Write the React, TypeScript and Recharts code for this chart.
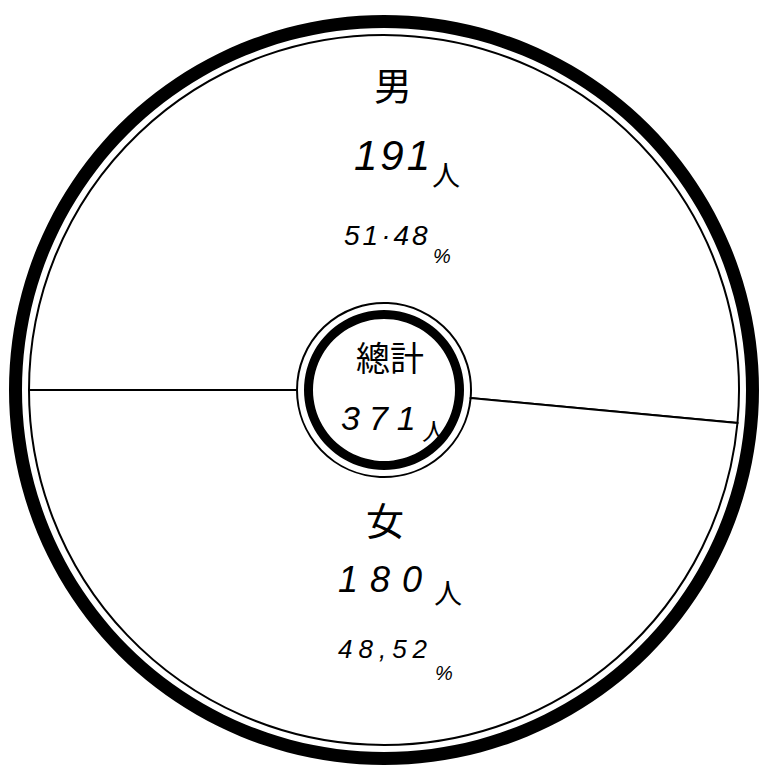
import { Pie, PieChart } from 'recharts';

const categories = ['男', '女'];
const counts = [191, 180];
const percentLabels = ['51.48', '48.52'];
const totalTitle = '總計';
const unit = '人';

const total = counts.reduce((a, b) => a + b, 0);
const sliceData = categories.map((name, i) => ({ name, value: counts[i], pct: percentLabels[i] }));
const ringData = [{ name: totalTitle, value: total }];

const KANJI = '"Noto Sans CJK JP", "Noto Sans CJK TC", sans-serif';
const DIGITS = '"Liberation Sans", "DejaVu Sans", sans-serif';

const CX = 384;
const CY = 390;

// per-slice text layout, offsets from the chart centre
const layout = [
  { name: [9, -307], num: [-30, -220, 42, 3], unit: [62, -204], pct: [-40, -145, 28, 3], sign: [58, -127], sep: '·' },
  { name: [1, 128], num: [-46, 202, 36, 12], unit: [64, 214], pct: [-46, 268, 26, 6], sign: [60, 290], sep: ',' },
];

function SliceLabel(props: any) {
  const { cx, cy, index, payload } = props;
  const l = layout[index];
  const name = payload?.name ?? categories[index];
  const value = String(payload?.value ?? counts[index]);
  const pct = String(payload?.pct ?? percentLabels[index]).replace('.', l.sep);
  return (
    <g>
      <text x={cx + l.name[0]} y={cy + l.name[1]} textAnchor="middle" dominantBaseline="central"
        fontFamily={KANJI} fontSize={38} fill="#000">{name}</text>
      <text x={cx + l.num[0]} y={cy + l.num[1]} textAnchor="start" fontFamily={DIGITS} fontStyle="italic"
        fontSize={l.num[2]} letterSpacing={l.num[3]} fill="#000">{value}</text>
      <text x={cx + l.unit[0]} y={cy + l.unit[1]} textAnchor="middle" fontFamily={KANJI} fontSize={28} fill="#000">{unit}</text>
      <text x={cx + l.pct[0]} y={cy + l.pct[1]} textAnchor="start" fontFamily={DIGITS} fontStyle="italic"
        fontSize={l.pct[2]} letterSpacing={l.pct[3]} fill="#000">{pct}</text>
      <text x={cx + l.sign[0]} y={cy + l.sign[1]} textAnchor="middle" fontFamily={DIGITS} fontStyle="italic"
        fontSize={20} fill="#000">%</text>
    </g>
  );
}

function CenterLabel(props: any) {
  const { cx, cy, index } = props;
  if (index !== 0) return null;
  return (
    <g>
      <text x={cx + 6} y={cy - 34} textAnchor="middle" dominantBaseline="central"
        fontFamily={KANJI} fontSize={34} fill="#000">{totalTitle}</text>
      <text x={cx - 43} y={cy + 40} textAnchor="start" fontFamily={DIGITS} fontStyle="italic"
        fontSize={34} letterSpacing={9} fill="#000">{String(total)}</text>
      <text x={cx + 50} y={cy + 50} textAnchor="middle" fontFamily={KANJI} fontSize={24} fill="#000">{unit}</text>
    </g>
  );
}

export default function App() {
  return (
    <div style={{ position: 'absolute', left: 0, top: 0, width: 760, height: 772, background: '#fff' }}>
      <PieChart width={760} height={772} margin={{ top: 0, right: 0, bottom: 0, left: 0 }}>
        <Pie
          data={ringData}
          dataKey="value"
          cx={CX}
          cy={CY}
          innerRadius={362}
          outerRadius={375}
          startAngle={0}
          endAngle={360}
          fill="#000"
          stroke="none"
          isAnimationActive={false}
        />
        <Pie
          data={sliceData}
          dataKey="value"
          nameKey="name"
          cx={CX}
          cy={CY}
          innerRadius={87}
          outerRadius={355}
          startAngle={180}
          endAngle={-180}
          fill="#fff"
          stroke="#000"
          strokeWidth={2}
          label={SliceLabel}
          labelLine={false}
          isAnimationActive={false}
        />
        <Pie
          data={ringData}
          dataKey="value"
          cx={CX}
          cy={CY}
          innerRadius={71}
          outerRadius={80}
          startAngle={0}
          endAngle={360}
          fill="#000"
          stroke="none"
          label={CenterLabel}
          labelLine={false}
          isAnimationActive={false}
        />
      </PieChart>
    </div>
  );
}
